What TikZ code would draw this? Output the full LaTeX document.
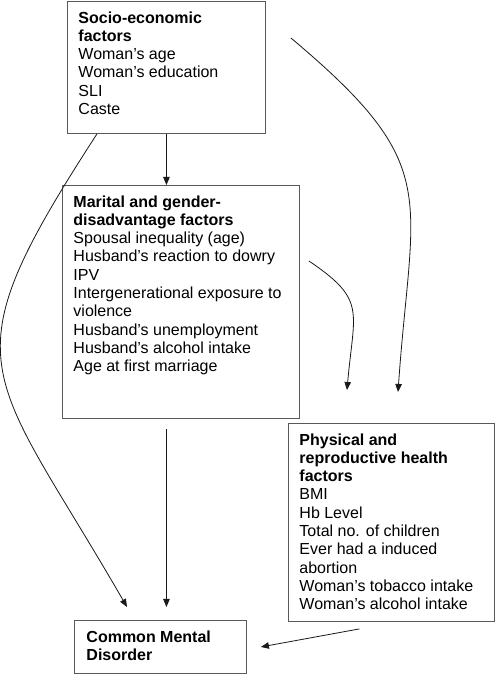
\documentclass[tikz,border=0pt]{standalone}
\usepackage{fontspec}
\setmainfont{Liberation Sans}
\usetikzlibrary{arrows.meta}

\newcommand{\factortext}[3]{\parbox[t][#2][t]{#1}{\raggedright #3}}

\begin{document}
\begin{tikzpicture}[x=1pt, y=1pt,
	factor/.style={draw=black!65, line width=0.9pt, anchor=north west, inner xsep=11pt, inner ysep=10pt,
		font=\fontsize{16}{18.3}\selectfont},
	path arrow/.style={draw=black!90, line width=0.8pt, -{Triangle[length=8pt,width=6.5pt]}},]

\useasboundingbox (0,0) rectangle (495,674);

\node[factor] (socio) at (67,673) {\factortext{176pt}{112pt}{%
	\textbf{Socio-economic\\ factors}\\
	Woman’s age\\
	Woman’s education\\
	SLI\\
	Caste}};

\node[factor] (mar) at (62,489) {\factortext{215pt}{213pt}{%
	\textbf{Marital and gender-\\ disadvantage factors}\\
	Spousal inequality (age)\\
	Husband’s reaction to dowry\\
	IPV\\
	Intergenerational exposure to\\ violence\\
	Husband’s unemployment\\
	Husband’s alcohol intake\\
	Age at first marriage}};

\node[factor] (phys) at (288,251) {\factortext{184pt}{178pt}{%
	\textbf{Physical and\\ reproductive health\\ factors}\\
	BMI\\
	Hb Level\\
	Total no. of children\\
	Ever had a induced\\ abortion\\
	Woman’s tobacco intake\\
	Woman’s alcohol intake}};

\node[factor, inner xsep=12pt] (cmd) at (74,54) {\factortext{148pt}{33pt}{%
	\textbf{Common Mental\\ Disorder}}};

% free ends of the curved paths
\coordinate (socio left) at ([xshift=30pt]socio.south west);
\coordinate (cmd left) at ([shift={(53pt,13pt)}]cmd.north west);
\coordinate (socio right) at ([shift={(25pt,-37pt)}]socio.north east);
\coordinate (phys right) at ([shift={(110pt,31pt)}]phys.north west);
\coordinate (mar right) at ([shift={(9pt,-76pt)}]mar.north east);
\coordinate (phys left) at ([shift={(59pt,33pt)}]phys.north west);
\coordinate (phys out) at ([shift={(-32pt,-7pt)}]phys.south);
\coordinate (cmd in) at ([xshift=14pt]cmd.east);

\draw[path arrow] (socio.south) -- (socio.south |- mar.north);
\draw[path arrow, shorten <=10pt, shorten >=13pt] (socio.south |- mar.south) -- (socio.south |- cmd.north);
\draw[path arrow] (socio left) .. controls +(237:280) and +(120:280) .. (cmd left);
\draw[path arrow] (socio right) .. controls +(-40:200) and +(86:200) .. (phys right);
\draw[path arrow] (mar right) .. controls +(-34:70) and +(85:80) .. (phys left);
\draw[path arrow] (phys out) -- (cmd in);

\end{tikzpicture}
\end{document}
